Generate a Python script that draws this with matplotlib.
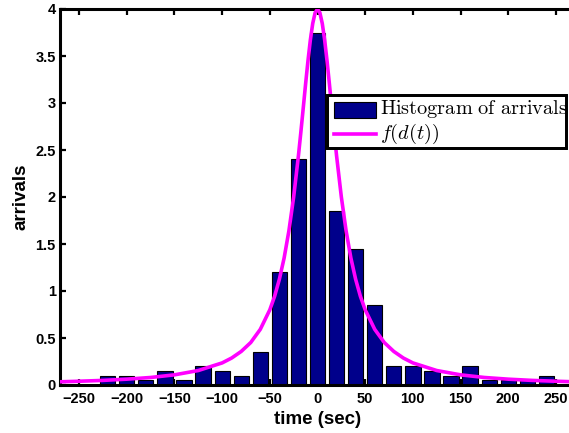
import matplotlib
matplotlib.use("Agg")
import matplotlib.pyplot as plt
from matplotlib.patches import Rectangle
from matplotlib.lines import Line2D

# Histogram data (bin centers in sec, arrivals)
bin_centers = [-220, -200, -180, -160, -140, -120, -100, -80, -60, -40, -20, 0,
               20, 40, 60, 80, 100, 120, 140, 160, 180, 200, 220, 240]
arrivals = [0.10, 0.10, 0.05, 0.15, 0.05, 0.20, 0.15, 0.10, 0.35, 1.20, 2.40, 3.75,
            1.85, 1.45, 0.85, 0.20, 0.20, 0.15, 0.10, 0.20, 0.05, 0.05, 0.05, 0.10]

# Fitted curve f(d(t))
curve_t = [-270, -250, -225, -200, -175, -150, -125, -100, -90, -80, -70, -60, -50,
           -45, -40, -35, -30, -25, -20, -17.5, -15, -12.5, -10, -7.5, -5, -2.5, 0,
           2.5, 5, 7.5, 10, 12.5, 15, 17.5, 20, 25, 30, 35, 40, 45, 50, 60, 70, 80,
           90, 100, 125, 150, 175, 200, 225, 250, 270]
curve_f = [0.034, 0.040, 0.049, 0.062, 0.080, 0.108, 0.154, 0.235, 0.287, 0.357, 0.452,
           0.592, 0.800, 0.943, 1.124, 1.351, 1.639, 2.000, 2.439, 2.685, 2.941, 3.200,
           3.448, 3.670, 3.846, 3.960, 4.000, 3.960, 3.846, 3.670, 3.448, 3.200, 2.941,
           2.685, 2.439, 2.000, 1.639, 1.351, 1.124, 0.943, 0.800, 0.592, 0.452, 0.357,
           0.287, 0.235, 0.154, 0.108, 0.080, 0.062, 0.049, 0.040, 0.034]

x_ticks = [-250, -200, -150, -100, -50, 0, 50, 100, 150, 200, 250]
y_ticks = [0, 0.5, 1, 1.5, 2, 2.5, 3, 3.5, 4]
y_tick_labels = ["0", "0.5", "1", "1.5", "2", "2.5", "3", "3.5", "4"]

plt.rcParams['font.family'] = ['Liberation Sans', 'DejaVu Sans']
plt.rcParams['mathtext.fontset'] = 'cm'

W, H = 569, 433
fig = plt.figure(figsize=(W / 100, H / 100), dpi=100)
ax = fig.add_axes([60 / W, 1 - 385 / H, 515 / W, 376 / H])

bar_color = '#00008B'
ax.bar(bin_centers, arrivals, width=16, color=bar_color, edgecolor='black',
       linewidth=0.8, zorder=2)
ax.plot(curve_t, curve_f, color='#FF00FF', linewidth=2.6, zorder=3,
        solid_capstyle='butt')

ax.set_xlim(-270, 270)
ax.set_ylim(0, 4)
ax.set_xticks(x_ticks)
ax.set_xticklabels([("\u2212" + str(abs(v))) if v < 0 else str(v) for v in x_ticks])
ax.set_yticks(y_ticks)
ax.set_yticklabels(y_tick_labels)
ax.tick_params(direction='in', length=4, width=1.6, top=True, right=True,
               labelsize=10.5)
ax.tick_params(axis='x', pad=5)
ax.tick_params(axis='y', pad=3)
for lab in ax.get_xticklabels() + ax.get_yticklabels():
    lab.set_fontweight('bold')
for sp in ax.spines.values():
    sp.set_linewidth(2.2)

ax.set_xlabel('time (sec)', fontsize=13.5, fontweight='bold', labelpad=4)
ax.set_ylabel('arrivals', fontsize=13.5, fontweight='bold', labelpad=4)

# Manual legend (box narrower than text, as in the reference)
def fx(px):
    return px / W

def fy(py):
    return 1 - py / H

frame = Rectangle((fx(327), fy(148)), fx(566) - fx(327), fy(95) - fy(148),
                  transform=fig.transFigure, facecolor='white', edgecolor='black',
                  linewidth=2.0, zorder=10)
fig.add_artist(frame)
clip_rect = Rectangle((fx(327), fy(148)), fx(565) - fx(327), fy(95) - fy(148),
                      transform=fig.transFigure)
handle = Rectangle((fx(334), fy(118)), fx(376) - fx(334), fy(102) - fy(118),
                   transform=fig.transFigure, facecolor=bar_color, edgecolor='black',
                   linewidth=0.8, zorder=11)
fig.add_artist(handle)
fig.add_artist(Line2D([fx(334), fx(376)], [fy(134), fy(134)],
                      transform=fig.transFigure, color='#FF00FF', linewidth=2.6,
                      zorder=11))
t1 = fig.text(fx(380), fy(109), r'$\mathrm{Histogram\ of\ arrivals}$', fontsize=14.6,
              va='center', ha='left', zorder=12)
t1.set_clip_path(clip_rect)
fig.text(fx(380), fy(134), r'$f(d(t))$', fontsize=14.6, va='center', ha='left',
         zorder=12)
# redraw frame edge over text
fig.add_artist(Rectangle((fx(327), fy(148)), fx(566) - fx(327), fy(95) - fy(148),
                         transform=fig.transFigure, facecolor='none',
                         edgecolor='black', linewidth=2.0, zorder=13))

fig.savefig('out.png', dpi=100)
